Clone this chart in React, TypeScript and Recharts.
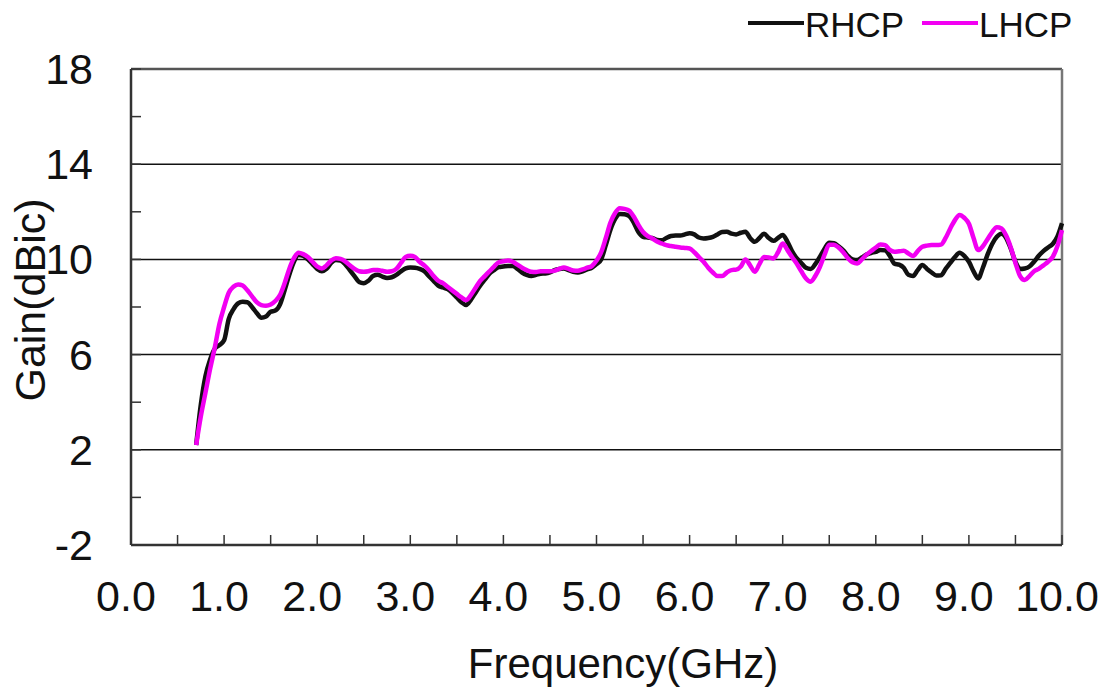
import React from "react";
import { LineChart, Line, XAxis, YAxis, ReferenceLine } from "recharts";

const FONT = "'Liberation Sans', Arial, Helvetica, sans-serif";

// frequency (GHz)
const freq = [
  0.7, 0.75, 0.8, 0.85, 0.9, 0.95, 1.0, 1.05, 1.1, 1.15, 1.2, 1.25, 1.3, 1.35, 1.4, 1.45, 1.5, 1.55, 1.6, 1.65,
  1.7, 1.75, 1.8, 1.85, 1.9, 1.95, 2.0, 2.05, 2.1, 2.15, 2.2, 2.25, 2.3, 2.35, 2.4, 2.45, 2.5, 2.55, 2.6, 2.65,
  2.7, 2.75, 2.8, 2.85, 2.9, 2.95, 3.0, 3.05, 3.1, 3.15, 3.2, 3.25, 3.3, 3.35, 3.4, 3.45, 3.5, 3.55, 3.6, 3.65,
  3.7, 3.75, 3.8, 3.85, 3.9, 3.95, 4.0, 4.05, 4.1, 4.15, 4.2, 4.25, 4.3, 4.35, 4.4, 4.45, 4.5, 4.55, 4.6, 4.65,
  4.7, 4.75, 4.8, 4.85, 4.9, 4.95, 5.0, 5.05, 5.1, 5.15, 5.2, 5.25, 5.3, 5.35, 5.4, 5.45, 5.5, 5.55, 5.6, 5.65,
  5.7, 5.75, 5.8, 5.85, 5.9, 5.95, 6.0, 6.05, 6.1, 6.15, 6.2, 6.25, 6.3, 6.35, 6.4, 6.45, 6.5, 6.55, 6.6, 6.65,
  6.7, 6.75, 6.8, 6.85, 6.9, 6.95, 7.0, 7.05, 7.1, 7.15, 7.2, 7.25, 7.3, 7.35, 7.4, 7.45, 7.5, 7.55, 7.6, 7.65,
  7.7, 7.75, 7.8, 7.85, 7.9, 7.95, 8.0, 8.05, 8.1, 8.15, 8.2, 8.25, 8.3, 8.35, 8.4, 8.45, 8.5, 8.55, 8.6, 8.65,
  8.7, 8.75, 8.8, 8.85, 8.9, 8.95, 9.0, 9.05, 9.1, 9.15, 9.2, 9.25, 9.3, 9.35, 9.4, 9.45, 9.5, 9.55, 9.6, 9.65,
  9.7, 9.75, 9.8, 9.85, 9.9, 9.95, 10.0,
];

// gain (dBic)
const rhcp = [
  2.2, 3.9, 5.1, 5.8, 6.25, 6.4, 6.6, 7.5, 7.9, 8.15, 8.22, 8.2, 8.0, 7.75, 7.55, 7.6, 7.8, 7.85, 8.1, 8.7,
  9.35, 9.9, 10.18, 10.15, 10.0, 9.8, 9.6, 9.5, 9.6, 9.85, 9.97, 9.95, 9.8, 9.55, 9.3, 9.05, 9.0, 9.1, 9.3, 9.35,
  9.28, 9.22, 9.25, 9.35, 9.5, 9.62, 9.66, 9.65, 9.6, 9.5, 9.3, 9.1, 8.9, 8.82, 8.75, 8.6, 8.4, 8.2, 8.08, 8.3,
  8.6, 8.9, 9.15, 9.4, 9.55, 9.68, 9.7, 9.72, 9.72, 9.6, 9.45, 9.35, 9.3, 9.35, 9.4, 9.41, 9.45, 9.55, 9.6, 9.62,
  9.55, 9.48, 9.45, 9.5, 9.58, 9.65, 9.8, 10.0, 10.6, 11.25, 11.7, 11.91, 11.9, 11.82, 11.55, 11.15, 10.95, 10.92, 10.9, 10.82,
  10.8, 10.9, 10.98, 11.0, 11.0, 11.05, 11.1, 11.05, 10.92, 10.88, 10.9, 10.95, 11.05, 11.15, 11.16, 11.08, 11.05, 11.12, 11.16, 10.9,
  10.74, 10.9, 11.08, 10.9, 10.78, 10.9, 11.02, 10.75, 10.35, 10.05, 9.85, 9.65, 9.6, 9.8, 10.11, 10.45, 10.7, 10.68, 10.55, 10.38,
  10.15, 10.0, 9.97, 10.08, 10.2, 10.27, 10.32, 10.4, 10.38, 10.15, 9.82, 9.78, 9.65, 9.35, 9.3, 9.55, 9.76, 9.6, 9.45, 9.32,
  9.33, 9.6, 9.85, 10.1, 10.28, 10.15, 9.9, 9.5, 9.2, 9.65, 10.2, 10.65, 10.95, 11.08, 10.9, 10.45, 9.9, 9.6, 9.62, 9.7,
  9.9, 10.15, 10.35, 10.5, 10.65, 10.95, 11.52,
];

const lhcp = [
  2.2, 3.4, 4.4, 5.4, 6.3, 7.3, 8.0, 8.6, 8.85, 8.95, 8.9, 8.7, 8.45, 8.2, 8.08, 8.05, 8.1, 8.25, 8.5, 9.0,
  9.6, 10.05, 10.28, 10.22, 10.1, 9.9, 9.7, 9.62, 9.75, 9.95, 10.05, 10.02, 9.92, 9.75, 9.6, 9.5, 9.48, 9.5, 9.55, 9.55,
  9.52, 9.48, 9.5, 9.6, 9.85, 10.1, 10.15, 10.1, 9.9, 9.75, 9.55, 9.3, 9.1, 9.0, 8.85, 8.7, 8.55, 8.4, 8.29, 8.5,
  8.8, 9.1, 9.3, 9.5, 9.7, 9.88, 9.92, 9.95, 9.9, 9.78, 9.65, 9.55, 9.48, 9.47, 9.5, 9.5, 9.5, 9.53, 9.6, 9.66,
  9.6, 9.53, 9.52, 9.58, 9.65, 9.72, 9.95, 10.3, 10.9, 11.55, 11.95, 12.15, 12.12, 12.05, 11.8, 11.45, 11.15, 10.98, 10.88, 10.75,
  10.67, 10.6, 10.56, 10.53, 10.5, 10.48, 10.46, 10.3, 10.1, 9.9, 9.65, 9.45, 9.3, 9.3, 9.45, 9.55, 9.57, 9.7, 10.0, 9.75,
  9.48, 9.8, 10.1, 10.08, 10.04, 10.3, 10.67, 10.4, 10.1, 9.83, 9.5, 9.2, 9.06, 9.3, 9.69, 10.2, 10.62, 10.62, 10.5, 10.3,
  10.05, 9.88, 9.83, 10.0, 10.2, 10.35, 10.5, 10.63, 10.6, 10.4, 10.32, 10.34, 10.36, 10.25, 10.14, 10.35, 10.53, 10.58, 10.6, 10.6,
  10.62, 10.9, 11.3, 11.65, 11.87, 11.75, 11.5, 10.9, 10.39, 10.55, 10.85, 11.15, 11.35, 11.3, 11.0, 10.5, 9.85, 9.3, 9.13, 9.3,
  9.5, 9.6, 9.75, 9.9, 10.1, 10.55, 11.23,
];

const xTicks = [0, 0.5, 1, 1.5, 2, 2.5, 3, 3.5, 4, 4.5, 5, 5.5, 6, 6.5, 7, 7.5, 8, 8.5, 9, 9.5, 10];
const yTicks = [-2, 0, 2, 4, 6, 8, 10, 12, 14, 16, 18];
const gridValues = [2, 6, 10, 14];

const series = [
  { key: "rhcp", name: "RHCP", color: "#111111" },
  { key: "lhcp", name: "LHCP", color: "#f200f2" },
];

const data = freq.map((f, i) => ({ f, rhcp: rhcp[i], lhcp: lhcp[i] }));

const XTick = (props: any) => {
  const { x, y, payload } = props;
  const v = payload.value as number;
  const major = Math.abs(v - Math.round(v)) < 1e-6;
  return (
    <g>
      <line x1={x} x2={x} y1={y} y2={y - 10} stroke="#333" strokeWidth={1.5} />
      {major && (
        <text x={x - 5} y={y + 66} textAnchor="middle" fontSize={43} fontFamily={FONT} fill="#111">
          {v.toFixed(1)}
        </text>
      )}
    </g>
  );
};

const YTick = (props: any) => {
  const { x, y, payload } = props;
  const v = payload.value as number;
  const major = (v + 2) % 4 === 0;
  return (
    <g>
      <line x1={x} x2={x + 10} y1={y} y2={y} stroke="#333" strokeWidth={1.5} />
      {major && (
        <text x={x - 38} y={y + 15} textAnchor="end" fontSize={43} fontFamily={FONT} fill="#111">
          {v}
        </text>
      )}
    </g>
  );
};

export default function App() {
  return (
    <div style={{ position: "absolute", left: 0, top: 0, width: 1106, height: 690, background: "#fff" }}>
      <LineChart width={1106} height={690} data={data} margin={{ top: 69, right: 44, left: 0, bottom: 0 }}>
        <XAxis
          dataKey="f"
          type="number"
          domain={[0, 10]}
          ticks={xTicks}
          interval={0}
          height={145}
          tickSize={0}
          tickMargin={0}
          tick={<XTick />}
          axisLine={{ stroke: "#333", strokeWidth: 2.5 }}
          tickLine={false}
        />
        <YAxis
          type="number"
          domain={[-2, 18]}
          ticks={yTicks}
          interval={0}
          width={131}
          tickSize={0}
          tickMargin={0}
          tick={<YTick />}
          axisLine={{ stroke: "#333", strokeWidth: 2.5 }}
          tickLine={false}
        />
        {gridValues.map((g) => (
          <ReferenceLine key={g} y={g} stroke="#111" strokeWidth={1.5} />
        ))}
        <ReferenceLine y={18} stroke="#555" strokeWidth={2.5} />
        <ReferenceLine x={10} stroke="#777" strokeWidth={2.5} />
        {series.map((s) => (
          <Line
            key={s.key}
            dataKey={s.key}
            name={s.name}
            type="monotone"
            stroke={s.color}
            strokeWidth={4.5}
            dot={false}
            isAnimationActive={false}
          />
        ))}
      </LineChart>
      <svg width={1106} height={690} style={{ position: "absolute", left: 0, top: 0, pointerEvents: "none" }}>
        <text x={45} y={300} transform="rotate(-90 45 300)" textAnchor="middle" fontSize={43} fontFamily={FONT} fill="#111">
          Gain(dBic)
        </text>
        <text x={623} y={678} textAnchor="middle" fontSize={42} fontFamily={FONT} fill="#111">
          Frequency(GHz)
        </text>
        {series.map((s, i) => {
          const x0 = i === 0 ? 748 : 922;
          return (
            <g key={s.key}>
              <line x1={x0} x2={x0 + 56} y1={23} y2={23} stroke={s.color} strokeWidth={4} />
              <text x={x0 + 57} y={37} fontSize={35} fontFamily={FONT} fill="#111">
                {s.name}
              </text>
            </g>
          );
        })}
      </svg>
    </div>
  );
}
